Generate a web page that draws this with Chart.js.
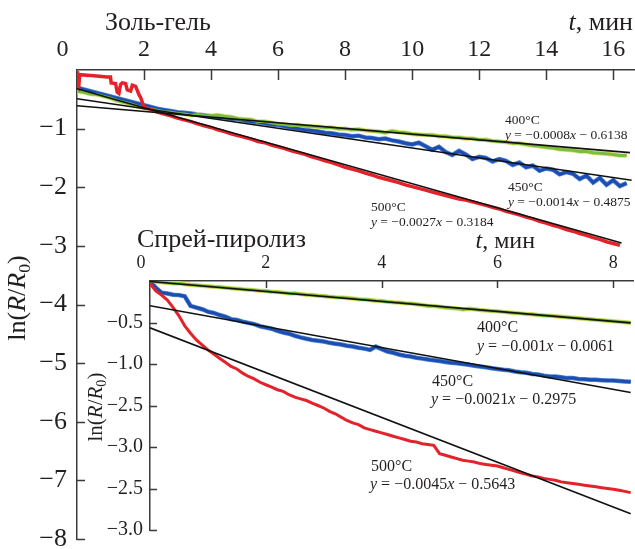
<!DOCTYPE html>
<html>
<head>
<meta charset="utf-8">
<script src="https://cdn.jsdelivr.net/npm/chart.js@4.4.1/dist/chart.umd.min.js"></script>
<style>
  html, body { margin: 0; padding: 0; background: #fff; }
  #wrap { position: relative; width: 635px; height: 549px; }
  #wrap canvas { position: absolute; left: 0; top: 0; }
</style>
</head>
<body>
<div id="wrap">
  <canvas id="main" width="635" height="549"></canvas>
  <canvas id="inset" width="635" height="549"></canvas>
</div>
<script>
// ---- Золь-гель (main panel), t in minutes ----
const solGelTime = [0, 0.2, 0.4, 0.6, 0.8, 1, 1.2, 1.4, 1.6, 1.8,
  2, 2.2, 2.4, 2.6, 2.8, 3, 3.2, 3.4, 3.6, 3.8,
  4, 4.2, 4.4, 4.6, 4.8, 5, 5.2, 5.4, 5.6, 5.8,
  6, 6.2, 6.4, 6.6, 6.8, 7, 7.2, 7.4, 7.6, 7.8,
  8, 8.2, 8.4, 8.6, 8.8, 9, 9.2, 9.4, 9.6, 9.8,
  10, 10.2, 10.4, 10.6, 10.8, 11, 11.2, 11.4, 11.6, 11.8,
  12, 12.2, 12.4, 12.6, 12.8, 13, 13.2, 13.4, 13.6, 13.8,
  14, 14.2, 14.4, 14.6, 14.8, 15, 15.2, 15.4, 15.6, 15.8,
  16, 16.2, 16.4];

const solGel400 = [-0.36, -0.38, -0.41, -0.42, -0.45, -0.48, -0.52, -0.55, -0.58, -0.62,
  -0.65, -0.66, -0.69, -0.71, -0.72, -0.74, -0.75, -0.77, -0.76, -0.78,
  -0.78, -0.77, -0.79, -0.80, -0.83, -0.84, -0.85, -0.88, -0.88, -0.90,
  -0.92, -0.93, -0.95, -0.94, -0.96, -0.96, -0.97, -0.98, -0.98, -1.00,
  -1.00, -1.02, -1.01, -1.03, -1.04, -1.05, -1.07, -1.04, -1.06, -1.07,
  -1.09, -1.10, -1.11, -1.11, -1.13, -1.13, -1.15, -1.15, -1.17, -1.17,
  -1.19, -1.19, -1.21, -1.22, -1.23, -1.25, -1.25, -1.27, -1.29, -1.30,
  -1.32, -1.33, -1.35, -1.36, -1.37, -1.39, -1.39, -1.41, -1.42, -1.43,
  -1.44, -1.46, -1.46];

const solGel450 = [-0.30, -0.33, -0.36, -0.39, -0.42, -0.45, -0.48, -0.51, -0.54, -0.57,
  -0.60, -0.63, -0.66, -0.68, -0.70, -0.72, -0.73, -0.74, -0.76, -0.77,
  -0.79, -0.80, -0.81, -0.83, -0.84, -0.86, -0.88, -0.89, -0.91, -0.93,
  -0.94, -0.96, -0.98, -1.00, -1.02, -1.03, -1.05, -1.07, -1.08, -1.10,
  -1.11, -1.13, -1.12, -1.15, -1.16, -1.18, -1.17, -1.20, -1.22, -1.25,
  -1.27, -1.24, -1.30, -1.36, -1.31, -1.40, -1.45, -1.38, -1.44, -1.52,
  -1.48, -1.50, -1.56, -1.52, -1.55, -1.62, -1.58, -1.66, -1.63, -1.72,
  -1.68, -1.70, -1.78, -1.74, -1.77, -1.86, -1.80, -1.92, -1.84, -1.96,
  -1.88, -1.98, -1.93];

// red trace: jagged start, then from t = 2.0 on the common time grid
const solGel500StartTime = [0, 0.02, 0.05, 0.08, 0.5, 0.9, 1.0, 1.02, 1.15, 1.2,
  1.25, 1.3, 1.35, 1.45, 1.5, 1.6, 1.65, 1.75, 1.85, 1.9];
const solGel500Start = [-0.02, -0.28, -0.3, -0.08, -0.1, -0.12, -0.12, -0.22, -0.23, -0.38,
  -0.4, -0.25, -0.22, -0.23, -0.34, -0.36, -0.26, -0.28, -0.42, -0.47];
const solGel500 = [-0.64, -0.67, -0.72, -0.75, -0.78, -0.82, -0.85, -0.88, -0.92, -0.95,
  -0.98, -1.02, -1.05, -1.09, -1.12, -1.15, -1.18, -1.22, -1.24, -1.28,
  -1.31, -1.34, -1.38, -1.41, -1.44, -1.48, -1.51, -1.55, -1.58, -1.62,
  -1.66, -1.69, -1.72, -1.76, -1.79, -1.83, -1.86, -1.89, -1.92, -1.96,
  -1.99, -2.02, -2.05, -2.08, -2.11, -2.14, -2.17, -2.20, -2.22, -2.25,
  -2.28, -2.31, -2.34, -2.37, -2.41, -2.44, -2.47, -2.51, -2.54, -2.58,
  -2.61, -2.65, -2.68, -2.72, -2.75, -2.79, -2.82, -2.86, -2.89, -2.93,
  -2.96, -2.99];

const solGelFit400 = [{ x: 0, y: -0.61 }, { x: 16.5, y: -1.41 }];
const solGelFit450 = [{ x: 0, y: -0.49 }, { x: 16.55, y: -1.88 }];
const solGelFit500 = [{ x: 0, y: -0.32 }, { x: 16.25, y: -2.95 }];

// ---- Спрей-пиролиз (inset) ----
const sprayTime = [0, 0.1, 0.2, 0.3, 0.4, 0.5, 0.6, 0.7, 0.8, 0.9,
  1, 1.1, 1.2, 1.3, 1.4, 1.5, 1.6, 1.7, 1.8, 1.9,
  2, 2.1, 2.2, 2.3, 2.4, 2.5, 2.6, 2.7, 2.8, 2.9,
  3, 3.1, 3.2, 3.3, 3.4, 3.5, 3.6, 3.7, 3.8, 3.9,
  4, 4.1, 4.2, 4.3, 4.4, 4.5, 4.6, 4.7, 4.8, 4.9,
  5, 5.1, 5.2, 5.3, 5.4, 5.5, 5.6, 5.7, 5.8, 5.9,
  6, 6.1, 6.2, 6.3, 6.4, 6.5, 6.6, 6.7, 6.8, 6.9,
  7, 7.1, 7.2, 7.3, 7.4, 7.5, 7.6, 7.7, 7.8, 7.9,
  8, 8.1, 8.2, 8.3];

const spray400 = [0, -0.008, -0.016, -0.02, -0.03, -0.028, -0.04, -0.046, -0.05, -0.058,
  -0.062, -0.07, -0.072, -0.08, -0.088, -0.092, -0.1, -0.104, -0.11, -0.118,
  -0.12, -0.13, -0.132, -0.14, -0.15, -0.148, -0.158, -0.165, -0.17, -0.178,
  -0.18, -0.19, -0.196, -0.2, -0.206, -0.212, -0.22, -0.222, -0.23, -0.238,
  -0.24, -0.25, -0.256, -0.26, -0.268, -0.27, -0.28, -0.29, -0.3, -0.302,
  -0.31, -0.318, -0.325, -0.33, -0.342, -0.335, -0.34, -0.35, -0.355, -0.36,
  -0.365, -0.372, -0.38, -0.385, -0.39, -0.398, -0.4, -0.41, -0.415, -0.42,
  -0.425, -0.432, -0.438, -0.444, -0.45, -0.456, -0.46, -0.468, -0.474, -0.48,
  -0.485, -0.49, -0.496, -0.502];

const spray450 = [0, -0.08, -0.14, -0.15, -0.165, -0.17, -0.185, -0.3, -0.32, -0.34,
  -0.37, -0.385, -0.41, -0.43, -0.46, -0.47, -0.49, -0.505, -0.52, -0.545,
  -0.56, -0.575, -0.6, -0.62, -0.635, -0.66, -0.68, -0.695, -0.71, -0.72,
  -0.73, -0.745, -0.755, -0.765, -0.78, -0.79, -0.805, -0.815, -0.83, -0.79,
  -0.82, -0.85, -0.865, -0.885, -0.9, -0.91, -0.925, -0.935, -0.945, -0.955,
  -0.965, -0.975, -0.985, -0.99, -1.0, -1.01, -1.02, -1.03, -1.04, -1.05,
  -1.06, -1.07, -1.075, -1.09, -1.1, -1.105, -1.12, -1.125, -1.14, -1.15,
  -1.15, -1.16, -1.17, -1.17, -1.18, -1.185, -1.19, -1.19, -1.195, -1.2,
  -1.2, -1.205, -1.21, -1.215];

const spray500 = [-0.03, -0.12, -0.17, -0.23, -0.32, -0.42, -0.54, -0.63, -0.71, -0.77,
  -0.83, -0.88, -0.93, -0.98, -1.03, -1.06, -1.11, -1.15, -1.18, -1.22,
  -1.25, -1.28, -1.31, -1.33, -1.37, -1.4, -1.42, -1.44, -1.47, -1.5,
  -1.53, -1.57, -1.6, -1.64, -1.68, -1.71, -1.73, -1.77, -1.79, -1.81,
  -1.83, -1.85, -1.87, -1.89, -1.91, -1.93, -1.94, -1.96, -1.97, -1.98,
  -2.08, -2.1, -2.12, -2.14, -2.16, -2.17, -2.18, -2.2, -2.21, -2.22,
  -2.23, -2.25, -2.27, -2.29, -2.31, -2.33, -2.35, -2.36, -2.38, -2.39,
  -2.4, -2.42, -2.43, -2.44, -2.45, -2.46, -2.47, -2.48, -2.49, -2.5,
  -2.51, -2.52, -2.535, -2.55];

const sprayFit400 = [{ x: 0, y: -0.006 }, { x: 8.3, y: -0.504 }];
const sprayFit450 = [{ x: 0, y: -0.298 }, { x: 8.3, y: -1.343 }];
const sprayFit500 = [{ x: 0, y: -0.564 }, { x: 8.3, y: -2.805 }];

// inset y tick labels as printed in the original figure
const sprayYTickLabels = ['−0.5', '−1.0', '−2.5', '−3.0', '−2.5', '−3.0'];

const SERIF = '"Liberation Serif", "DejaVu Serif", serif';
const INK = '#231f20';
const AXIS = '#3a3a3a';
const RED = '#e3222a';
const BLUE = '#1e4db2';
const BLUE_EDGE = '#4d86d4';
const GREEN = '#79bf3f';
const GREEN_EDGE = '#e2e070';

function pts(xs, ys) {
  return ys.map((y, i) => ({ x: xs[i], y }));
}

function line(data, color, width) {
  return { data, borderColor: color, borderWidth: width, pointRadius: 0, tension: 0, fill: false };
}

function drawRich(ctx, item) {
  const size = item.size;
  const fontFor = (p) => `${p[1] ? 'italic ' : ''}${p[2] ? size * 0.68 : size}px ${SERIF}`;
  let total = 0;
  const widths = item.parts.map((p) => {
    ctx.font = fontFor(p);
    const w = ctx.measureText(p[0]).width;
    total += w;
    return w;
  });
  ctx.save();
  ctx.translate(item.x, item.y);
  if (item.rotate) ctx.rotate(-Math.PI / 2);
  let x = item.align === 'right' ? -total : item.align === 'center' ? -total / 2 : 0;
  ctx.fillStyle = INK;
  ctx.textBaseline = 'middle';
  ctx.textAlign = 'left';
  item.parts.forEach((p, i) => {
    ctx.font = fontFor(p);
    ctx.fillText(p[0], x, p[2] ? size * 0.3 : 0);
    x += widths[i];
  });
  ctx.restore();
}

// inward tick marks + free text (titles, axis label, fit equations)
function makeDecor(tickX, tickY, texts) {
  return {
    id: 'decor',
    afterDraw(chart) {
      const { ctx, scales } = chart;
      const sx = scales.x;
      const sy = scales.y;
      ctx.save();
      ctx.strokeStyle = AXIS;
      ctx.lineWidth = 1.5;
      ctx.beginPath();
      sx.ticks.forEach((t) => {
        if (t.value === sx.min) return;
        const px = Math.round(sx.getPixelForValue(t.value)) + 0.5;
        ctx.moveTo(px, sx.bottom);
        ctx.lineTo(px, sx.bottom + tickX);
      });
      sy.ticks.forEach((t) => {
        if (t.value === sy.max) return;
        const py = Math.round(sy.getPixelForValue(t.value)) + 0.5;
        ctx.moveTo(sy.right, py);
        ctx.lineTo(sy.right + tickY, py);
      });
      ctx.stroke();
      texts.forEach((item) => drawRich(ctx, item));
      ctx.restore();
    },
  };
}

function eq(slope, icept) {
  return [['y', 1], [' = −' + slope], ['x', 1], [' − ' + icept]];
}

function axisX(max, size, padding, height, zeroLabel) {
  return {
    type: 'linear', position: 'top', min: 0, max,
    grid: { display: false, drawTicks: false },
    border: { display: true, color: AXIS, width: 1.5 },
    ticks: {
      stepSize: 2, includeBounds: false, autoSkip: false, maxRotation: 0, padding,
      color: INK, font: { family: SERIF, size },
      callback: (v) => (v === 0 ? zeroLabel : String(v)),
    },
    afterFit(s) { s.height = height; s.paddingLeft = 0; s.paddingRight = 0; },
  };
}

function axisY(min, step, size, padding, width, labelFor) {
  return {
    type: 'linear', min, max: 0,
    grid: { display: false, drawTicks: false },
    border: { display: true, color: AXIS, width: 1.5 },
    ticks: {
      stepSize: step, includeBounds: false, autoSkip: false, padding,
      color: INK, font: { family: SERIF, size },
      callback: labelFor,
    },
    afterFit(s) { s.width = width; s.paddingTop = 0; s.paddingBottom = 0; },
  };
}

const common = {
  responsive: false,
  animation: false,
  events: [],
  plugins: { legend: { display: false }, tooltip: { enabled: false } },
};

const mainTexts = [
  { x: 105, y: 23, size: 26, parts: [['Золь-гель']] },
  { x: 633, y: 23, size: 26, align: 'right', parts: [['t', 1], [', мин']] },
  { x: 18, y: 298, size: 26, rotate: true, align: 'center',
    parts: [['ln('], ['R', 1], ['/'], ['R', 1], ['0', 0, 1], [')']] },
  { x: 505, y: 120, size: 13.5, parts: [['400°C']] },
  { x: 505, y: 135, size: 13.5, parts: eq('0.0008', '0.6138') },
  { x: 508, y: 187, size: 13.5, parts: [['450°C']] },
  { x: 508, y: 202, size: 13.5, parts: eq('0.0014', '0.4875') },
  { x: 371, y: 207, size: 13.5, parts: [['500°C']] },
  { x: 371, y: 222, size: 13.5, parts: eq('0.0027', '0.3184') },
];

new Chart(document.getElementById('main'), {
  type: 'line',
  data: {
    datasets: [
      line(solGelFit400, '#111', 1.6),
      line(solGelFit450, '#111', 1.6),
      line(solGelFit500, '#111', 1.6),
      line(pts(solGel500StartTime.concat(solGelTime.slice(10, 82)), solGel500Start.concat(solGel500)), RED, 3.5),
      line(pts(solGelTime, solGel400), GREEN, 3),
      line(pts(solGelTime, solGel450), BLUE, 3),
      line(pts(solGelTime, solGel400), GREEN_EDGE, 4.5),
      line(pts(solGelTime, solGel450), BLUE_EDGE, 4.5),
    ],
  },
  options: {
    ...common,
    layout: { padding: { left: 0, top: 0, right: 0, bottom: 10 } },
    scales: {
      x: axisX(16.65, 24, 6, 70, '0\u2003\u2009'),
      y: axisY(-8, 1, 26, 10, 77, (v) => (v === 0 ? '' : '−' + Math.abs(v))),
    },
  },
  plugins: [makeDecor(10, 8, mainTexts)],
});

const insetTexts = [
  { x: 137, y: 240, size: 26, parts: [['Спрей-пиролиз']] },
  { x: 535, y: 242, size: 24, align: 'right', parts: [['t', 1], [', мин']] },
  { x: 96, y: 407, size: 21, rotate: true, align: 'center',
    parts: [['ln('], ['R', 1], ['/'], ['R', 1], ['0', 0, 1], [')']] },
  { x: 477, y: 328, size: 16, parts: [['400°C']] },
  { x: 477, y: 347, size: 16, parts: eq('0.001', '0.0061') },
  { x: 432, y: 382, size: 16, parts: [['450°C']] },
  { x: 431, y: 400, size: 16, parts: eq('0.0021', '0.2975') },
  { x: 371, y: 467, size: 16, parts: [['500°C']] },
  { x: 370, y: 485, size: 16, parts: eq('0.0045', '0.5643') },
];

new Chart(document.getElementById('inset'), {
  type: 'line',
  data: {
    datasets: [
      line(sprayFit400, '#111', 1.6),
      line(sprayFit450, '#111', 1.6),
      line(sprayFit500, '#111', 1.6),
      line(pts(sprayTime, spray500), RED, 3),
      line(pts(sprayTime, spray400), GREEN, 3),
      line(pts(sprayTime, spray450), BLUE, 3),
      line(pts(sprayTime, spray400), GREEN_EDGE, 4.5),
      line(pts(sprayTime, spray450), BLUE_EDGE, 4.5),
    ],
  },
  options: {
    ...common,
    layout: { padding: { left: 0, top: 0, right: 2, bottom: 19 } },
    scales: {
      x: axisX(8.34, 18, 7, 281, '0\u2003'),
      y: axisY(-3, 0.5, 20, 7, 150, (v) => {
        const i = Math.round(-v / 0.5) - 1;
        return i >= 0 ? sprayYTickLabels[i] : '';
      }),
    },
  },
  plugins: [makeDecor(7, 7, insetTexts)],
});
</script>
</body>
</html>
